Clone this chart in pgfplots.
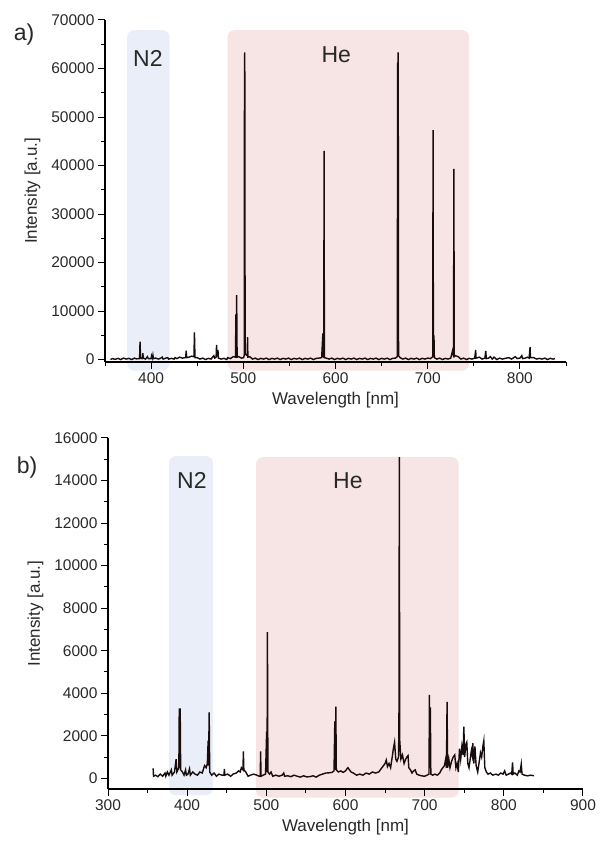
\documentclass[border=0pt]{standalone}
\usepackage{fontspec}
\setmainfont{Liberation Sans}
\usepackage{pgfplots}
\pgfplotsset{compat=1.18}

\definecolor{nbox}{RGB}{233,238,248}
\definecolor{hebox}{RGB}{247,228,228}
\definecolor{txt}{RGB}{40,40,40}
\definecolor{trace}{RGB}{25,12,12}

\pgfplotsset{spec/.style={
    scale only axis, anchor=south west,
    axis lines=left, axis line style={-, line width=1.1pt, black},
    tick align=outside, major tick length=7pt, minor tick length=4pt,
    every tick/.style={line width=1pt, black},
    tick label style={font=\fontsize{15.5}{15.5}\selectfont, text=txt},
    label style={font=\fontsize{17}{17}\selectfont, text=txt},
    /pgf/number format/assume math mode=true,
    /pgf/number format/1000 sep={},
    scaled y ticks=false, clip=false, set layers,
    xlabel={Wavelength [nm]}, ylabel={Intensity [a.u.]},
}}

\begin{document}
\begin{tikzpicture}[x=1pt,y=1pt]
\path (0,0) rectangle (605,844);

\node[font=\fontsize{23}{23}\selectfont, text=txt] at (24pt,809pt) {a)};
\node[font=\fontsize{23}{23}\selectfont, text=txt] at (27pt,376pt) {b)};

% ---- a) ----
\begin{axis}[spec, at={(105pt,482pt)}, width=461pt, height=342pt,
    xmin=350, xmax=850, ymin=-500, ymax=70000,
    xtick={400,500,...,800}, minor xtick={350,450,...,850},
    ytick={0,10000,...,70000}, minor ytick={5000,15000,...,65000},
    xlabel style={yshift=-2pt}, ylabel style={yshift=4pt}]
\begin{pgfonlayer}{axis background}
\fill[nbox, rounded corners=7pt] (axis cs:374,-2260) rectangle (axis cs:420,67900);
\fill[hebox, rounded corners=7pt] (axis cs:483,-2260) rectangle (axis cs:745,67900);
\end{pgfonlayer}
\node[font=\fontsize{23}{23}\selectfont, text=txt] at (axis cs:396.5,62100) {N2};
\node[font=\fontsize{23}{23}\selectfont, text=txt] at (axis cs:600.8,62750) {He};
\addplot[trace, line width=1.4pt] table {
356 0
358 200
361 50
364 250
367 0
370 300
373 100
376 250
379 0
382 300
384 150
387.5 200
388 3700
388.6 300
390.5 200
391 1300
391.6 300
394 100
396 600
397 200
400 200
400.5 800
401.5 300
402 900
402.6 200
405 300
408 100
411 350
412 500
413 100
416 300
418 400
419 100
422 250
425 100
426 400
428 200
431 500
434 300
437 400
437.6 500
438 1850
438.6 400
441 500
444 700
446.5 600
447 5600
447.6 400
450 400
453 100
456 300
459 0
462 250
465 100
468 800
469 300
470.5 500
471 3000
471.6 600
472.5 2000
473 300
476 100
479 250
482 0
483 400
486 200
489 600
491.5 500
492 9300
492.4 800
492.8 13300
493.3 500
495 600
498 300
500.5 400
501 1000
501.3 62500
501.6 63300
502 1200
503 1000
504.3 800
504.6 4600
505 500
507 600
510 100
513 300
516 0
519 250
522 100
525 300
528 0
531 250
534 100
537 300
540 0
543 250
546 100
549 300
552 0
555 250
558 100
561 300
564 0
567 250
570 100
573 300
576 0
579 250
582 300
585 400
586.3 5400
586.7 600
587.3 500
587.6 43000
588 400
590 300
593 100
596 300
599 0
602 250
605 100
608 300
611 0
614 250
617 100
620 300
623 0
626 250
629 100
632 300
635 0
638 250
641 100
644 300
647 0
650 250
653 100
656 300
659 0
662 250
665 300
667 600
667.4 61200
667.7 800
668 63300
668.4 800
670 400
673 100
676 300
679 0
682 250
685 100
688 300
691 0
694 250
697 100
700 300
703 200
705.5 600
705.8 47300
706.2 800
706.8 5000
707.2 400
710 100
713 300
716 0
719 250
722 100
725 300
727.6 2300
728 500
728.4 39300
728.8 600
730 800
733 600
736 100
739 300
742 0
745 250
748 100
751 300
752 2000
752.5 300
756 500
759 100
762 300
763 1800
763.5 200
766 300
768 600
770 100
772 500
775 0
778 300
781 100
784 250
788 400
791 100
795 600
797 200
800 300
802 800
803 200
806 300
808 500
810 300
811 2600
811.5 400
815 400
818 100
821 250
824 100
827 300
830 0
833 250
836 100
838 200
};
\end{axis}

% ---- b) ----
\begin{axis}[spec, at={(108pt,55pt)}, width=475pt, height=351pt,
    xmin=300, xmax=900, ymin=-500, ymax=16000,
    xtick={300,400,...,900}, minor xtick={350,450,...,850},
    ytick={0,2000,...,16000}, minor ytick={1000,3000,...,15000},
    xlabel style={yshift=-2pt}, ylabel style={yshift=4pt}]
\begin{pgfonlayer}{axis background}
\fill[nbox, rounded corners=7pt] (axis cs:377,-800) rectangle (axis cs:432.6,15150);
\fill[hebox, rounded corners=7pt] (axis cs:487,-900) rectangle (axis cs:743,15100);
\end{pgfonlayer}
\node[font=\fontsize{23}{23}\selectfont, text=txt] at (axis cs:406,13980) {N2};
\node[font=\fontsize{23}{23}\selectfont, text=txt] at (axis cs:603,13980) {He};
\addplot[trace, line width=1.4pt] table {
357 470
357.5 100
360 150
363 80
366 200
369 100
372 250
373 100
375 300
377 150
380 400
381 150
384 300
386 900
387 300
389.5 500
390 3260
391.2 3260
391.8 400
394 300
396 150
398 400
399 150
401 200
403 450
404 150
407 300
410 200
413 150
416 300
419 250
422 600
424 500
425.5 700
426.5 1770
427 600
427.8 3100
428.5 300
431 150
434 250
437 100
440 200
444 150
446.5 150
447 440
447.5 150
451 200
455 100
458 200
462 250
465 350
467 300
468.5 500
470.5 400
471 1270
471.6 400
474 300
477 100
480 150
484 200
488 150
491 100
492.3 100
492.8 1270
493.3 100
496 150
499 200
500.4 2200
500.9 300
501.4 6870
502 300
504 200
506 300
508 100
512 150
516 100
520 150
522 250
523 100
527 120
531 80
535 150
539 100
543 60
547 120
551 70
555 80
559 120
563 60
567 150
571 200
575 250
579 260
583 280
585.5 350
586.5 2680
587 400
587.8 3370
588.4 400
591 300
594 350
597 280
600 350
603 500
605 400
607 300
610 250
614 150
618 200
622 150
626 250
630 200
634 300
638 250
642 300
645 450
648 600
650 700
651.5 860
653 550
655 700
657 500
659 1000
660.5 1400
662 1700
663.5 900
665 800
667 1000
667.5 2680
668 15100
668.5 1800
670 900
672 1100
674 700
676 900
677.5 1000
679 1070
680 500
682 400
684 250
686 350
688 400
690 200
693 150
696 120
700 100
703 150
705.5 200
706 3920
706.6 500
707.2 3340
707.8 200
710 150
713 200
716 150
719 250
721 400
723 500
725 600
726.5 900
727.5 500
728.3 3600
729 500
730.5 900
732 500
734 800
736 1000
738 1100
739.5 500
741 700
742.5 300
744 1400
745.5 900
747 1500
748.5 1100
749.5 2430
750.5 1000
752 1600
753.2 1700
754.5 700
756 500
757.5 900
759 1300
760 1100
760.8 1650
762 700
763.5 1500
765 600
767 300
769 800
770.5 1200
772 1000
773.5 1500
774.7 1770
776 500
778 300
780 200
783 250
786 150
790 200
793 150
796 250
799 200
801 350
803 150
806 200
808.5 250
810 200
811 750
811.8 200
814 250
817 150
819 350
820.5 300
822 670
823 200
826 150
830 120
834 150
838 120
};
\end{axis}
\end{tikzpicture}
\end{document}
